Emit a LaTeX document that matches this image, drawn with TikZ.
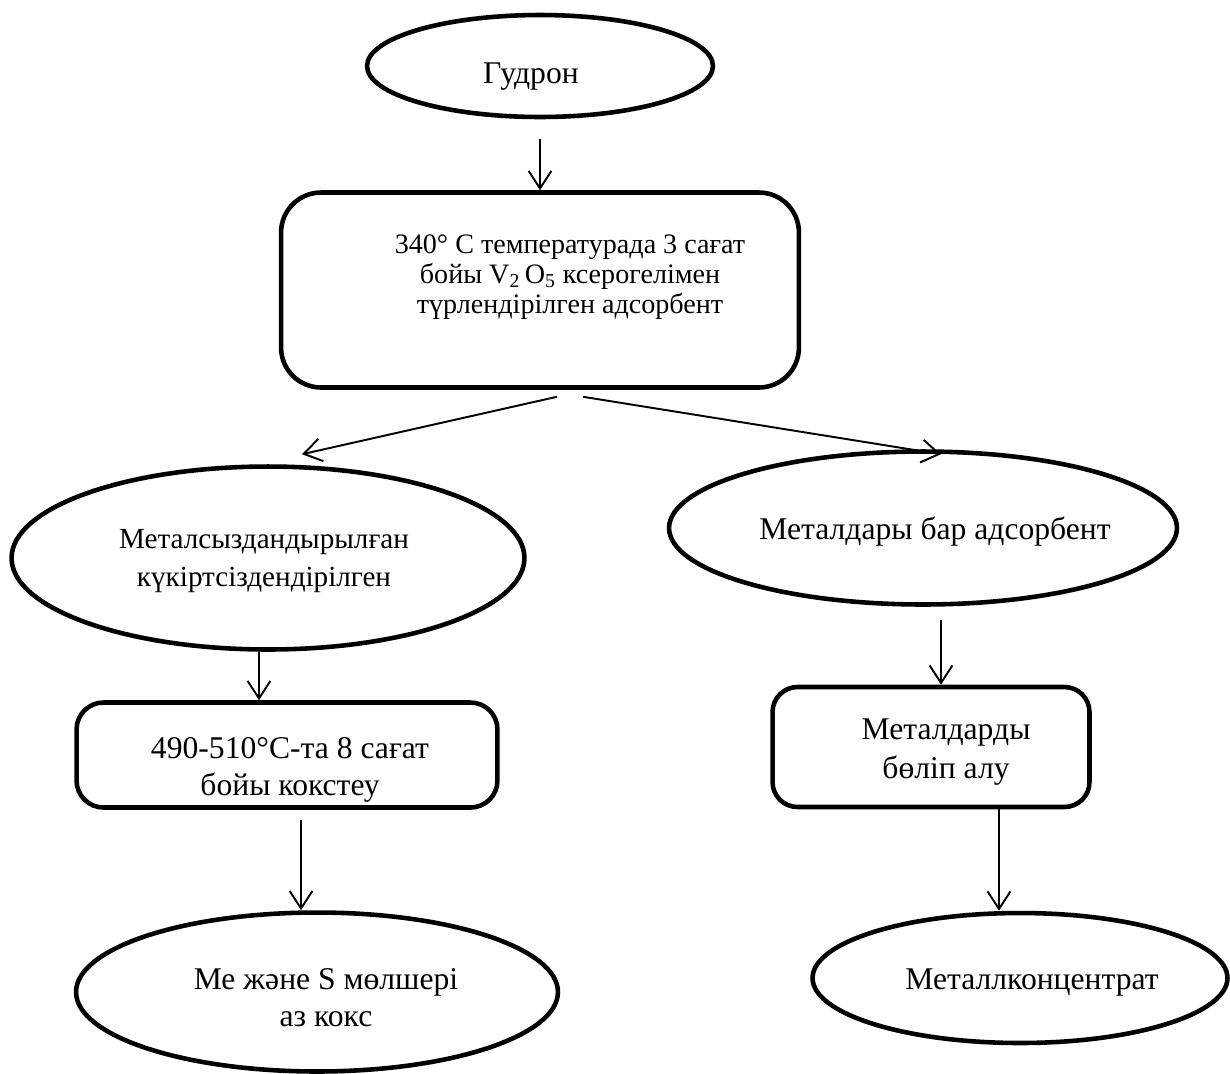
\documentclass[tikz,border=0pt]{standalone}
\usepackage{fontspec}
\setmainfont{Liberation Serif}
\usetikzlibrary{shapes.geometric}
\usetikzlibrary{arrows.meta}
\usetikzlibrary{calc}

\tikzset{
  oval/.style={draw, ellipse, line width=2.6pt, inner sep=0pt},
  blok/.style={draw, rectangle, line width=2.6pt, inner sep=0pt},
  txt/.style={align=center, font=\fontsize{18}{21}\selectfont},
  arr/.style={line width=1.1pt, -{Straight Barb[length=10pt,width=13pt,line width=1.1pt]}}
}

\begin{document}
\begin{tikzpicture}[x=0.02cm, y=-0.02cm]
\useasboundingbox (0,0) rectangle (1230,1073);

% shapes
\node[oval, minimum width=6.92cm, minimum height=2.04cm] (gud) at (540,66) {};
\node[blok, rounded corners=0.8cm, minimum width=10.36cm, minimum height=3.9cm] (mod) at (540,290) {};
\node[oval, minimum width=10.26cm, minimum height=3.66cm] (lft) at (268,558) {};
\node[oval, minimum width=10.16cm, minimum height=3.06cm] (rgt) at (923,528) {};
\node[blok, rounded corners=0.54cm, minimum width=8.42cm, minimum height=2.1cm] (koks) at (287,755) {};
\node[blok, rounded corners=0.5cm, minimum width=6.34cm, minimum height=2.4cm] (bol) at (931,747) {};
\node[oval, minimum width=9.64cm, minimum height=3.18cm] (res1) at (317,992) {};
\node[oval, minimum width=8.3cm, minimum height=2.6cm] (res2) at (1020,978) {};

% texts
\node[txt] (gudtxt) at (531,77) {Гудрон};
\node[txt, font=\fontsize{16}{17}\selectfont] (modtxt) at (570,277) {340° C температурада 3 сағат\\бойы V\textsubscript{2}\,O\textsubscript{5} ксерогелімен\\түрлендірілген адсорбент};
\node[txt, font=\fontsize{16.6}{21.5}\selectfont] (lfttxt) at (264,561) {Металсыздандырылған\\күкіртсіздендірілген};
\node[txt] (rgttxt) at (935,532) {Металдары бар адсорбент};
\node[txt] (kokstxt) at (290,770) {490-510°C-та 8 сағат\\бойы кокстеу};
\node[txt, font=\fontsize{18}{22}\selectfont] (boltxt) at (946,752) {Металдарды\\бөліп алу};
\node[txt] (res1txt) at (326,998) {Ме және S мөлшері\\аз кокс};
\node[txt] (res2txt) at (1032,982) {Металлконцентрат};

% arrows
\draw[arr] ([shift={(0,20)}]gud.south) -- (mod.north);
\draw[arr] ([shift={(17,7)}]mod.south) -- ([shift={(34,-10)}]lft.north);
\draw[arr] ([shift={(43,7)}]mod.south) -- ([shift={(18,5)}]rgt.north);
\draw[arr] ([shift={(-9,-5)}]lft.south) -- ([shift={(-28,0)}]koks.north);
\draw[arr] ([shift={(14,10)}]koks.south) -- ([shift={(-16,0)}]res1.north);
\draw[arr] ([shift={(18,13)}]rgt.south) -- ([shift={(10,0)}]bol.north);
\draw[arr] ([shift={(68,0)}]bol.south) -- ([shift={(-21,0)}]res2.north);
\end{tikzpicture}
\end{document}
